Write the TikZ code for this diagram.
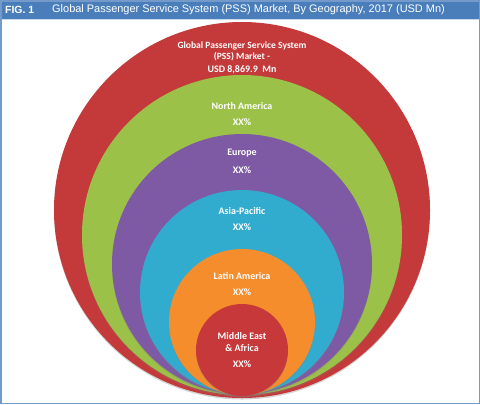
\documentclass[tikz,border=0pt]{standalone}
\usepackage{fontspec}
\setmainfont{Carlito}
\newfontfamily\titlefont{Liberation Sans}
\usetikzlibrary{shadows}
\definecolor{barblue}{RGB}{74,126,187}
\definecolor{frameblue}{RGB}{116,154,204}
\definecolor{ringred}{RGB}{196,57,58}
\definecolor{ringgreen}{RGB}{156,193,72}
\definecolor{ringpurple}{RGB}{126,90,164}
\definecolor{ringblue}{RGB}{50,172,206}
\definecolor{ringorange}{RGB}{245,141,45}
\definecolor{corered}{RGB}{198,56,58}

\begin{document}
\begin{tikzpicture}[x=1bp,y=-1bp,
  ring/.style={drop shadow={shadow xshift=0bp,shadow yshift=-1.5bp,opacity=0.35}},
  lbl/.style={white,align=center,inner sep=0pt,font=\bfseries\fontsize{10}{12}\selectfont}]
  \def\CX{242}
  \useasboundingbox (0,0) rectangle (480,404);

  % title bar and frame
  \fill[barblue] (0,0) rectangle (480,19);
  \draw[white!70!barblue,line width=1bp] (0,19.5) -- (480,19.5);
  \draw[frameblue,line width=1.5bp] (0.75,0.75) rectangle (479.25,403.25);
  \node[white,anchor=west,inner sep=0pt,font=\titlefont\bfseries\fontsize{10.5}{12}\selectfont]
    (fig) at (5,10) {FIG. 1};
  \node[white,anchor=west,inner sep=0pt,font=\titlefont\fontsize{11}{13}\selectfont]
    (title) at (52,10) {Global Passenger Service System (PSS) Market, By Geography, 2017 (USD Mn)};

  % nested circles
  \fill[ringred,ring] (\CX,210) circle (188);
  \fill[ringgreen,ring] (\CX,235) circle (160);
  \fill[ringpurple,ring] (\CX,264) circle (130);
  \fill[ringblue,ring] (\CX,292) circle (102);
  \fill[ringorange,ring] (\CX,322) circle (73);
  \fill[corered,ring] (\CX,350) circle (46);

  % labels
  \node[lbl,font=\bfseries\fontsize{9.6}{11}\selectfont] (glob) at (\CX,51)
    {Global Passenger Service System\\(PSS) Market -};
  \node[lbl] (globval) at (\CX,70) {USD 8,869.9~~Mn};
  \node[lbl] (na) at (\CX,106) {North America};
  \node[lbl] (naval) at (\CX,122) {XX\%};
  \node[lbl] (eu) at (\CX,153) {Europe};
  \node[lbl] (euval) at (\CX,170) {XX\%};
  \node[lbl] (ap) at (\CX,211) {Asia-Pacific};
  \node[lbl] (apval) at (\CX,227) {XX\%};
  \node[lbl] (la) at (\CX,276) {Latin America};
  \node[lbl] (laval) at (\CX,292) {XX\%};
  \node[lbl] (mea) at (\CX,342) {Middle East\\\& Africa};
  \node[lbl] (meaval) at (\CX,364) {XX\%};
\end{tikzpicture}
\end{document}
